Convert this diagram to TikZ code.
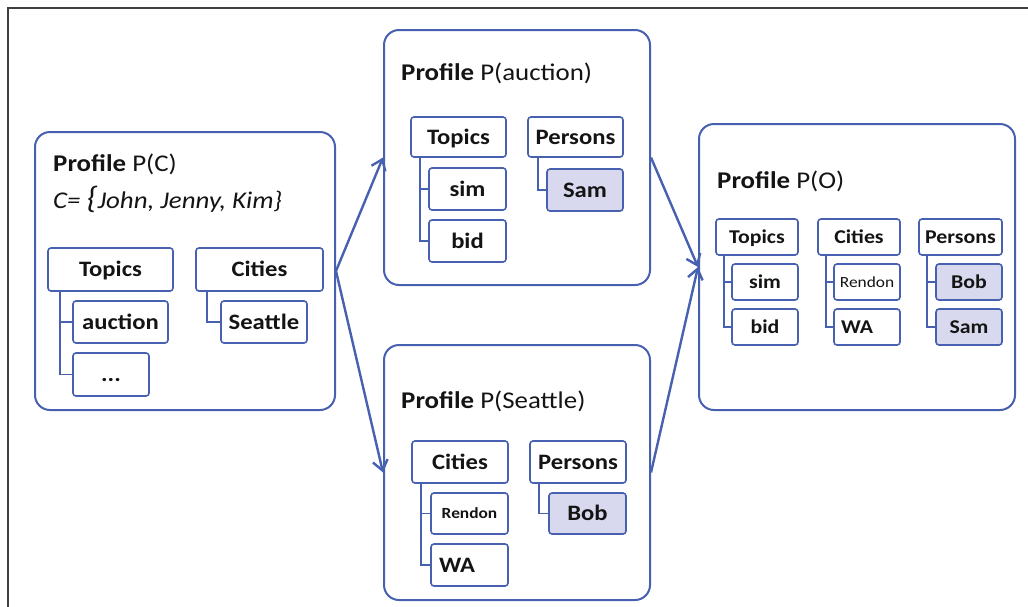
\documentclass[tikz,border=0pt]{standalone}
\usepackage{fontspec}
\setmainfont{Carlito}[FakeStretch=1.12]
\usetikzlibrary{arrows.meta}
\definecolor{edge}{RGB}{72,96,176}
\definecolor{lav}{RGB}{216,217,238}
\definecolor{ink}{RGB}{20,20,20}
\definecolor{framegray}{RGB}{64,64,64}

% box placed by its corners: name, x1, y1, x2, y2, style, text
\newcommand\bx[7]{\node[#6, minimum width={#4-#2}, minimum height={#5-#3}] (#1) at ({(#2+#4)/2},{(#3+#5)/2}) {#7};}

\begin{document}
\begin{tikzpicture}[x=1pt,y=-1pt,
  profile/.style={draw=edge, line width=2pt, rounded corners=15pt, fill=white, inner sep=0pt},
  cell/.style={draw=edge, line width=1.6pt, rounded corners=3pt, fill=white, inner sep=0pt, text=ink, text depth=0pt},
  big/.style={cell, font=\fontsize{22}{24}\selectfont\bfseries, text height=14.1pt},
  small/.style={cell, font=\fontsize{19.5}{22}\selectfont\bfseries, text height=12.5pt},
  tinyb/.style={cell, font=\fontsize{15.5}{18}\selectfont\bfseries, text height=10pt},
  tinyr/.style={cell, font=\fontsize{15.5}{18}\selectfont, text height=10pt},
  person/.style={fill=lav},
  title/.style={anchor=base west, inner sep=0pt, text=ink, font=\fontsize{24}{28}\selectfont},
  tree/.style={draw=edge, line width=1.8pt},
  flow/.style={draw=edge, line width=2.4pt, -{Straight Barb[length=10pt,width=15pt,line width=2.4pt]}}
]
\useasboundingbox (0,0) rectangle (1028,606);
\draw[framegray, line width=1.8pt] (8,610) -- (8,8) -- (1032,8);

% ---- profile P(C) ----
\bx{pc}{35}{132}{335}{410}{profile}{}
\node[title] (pct) at (53,171) {\textbf{Profile} P(C)};
\node[anchor=base west, inner sep=0pt, text=ink, font=\fontsize{24}{28}\selectfont\itshape] (pcs) at (53,208)
  {C= {\fontsize{31}{32}\selectfont\{}John, Jenny, Kim\}};
\bx{pcT}{48}{248}{173}{291}{big}{Topics}
\bx{pcC}{196}{248}{323}{291}{big}{Cities}
\bx{pcA}{73}{301}{168}{343}{big}{auction}
\bx{pcD}{73}{353}{149}{396}{big}{...}
\bx{pcS}{221}{301}{307}{343}{big}{Seattle}
\draw[tree] ([xshift=13pt]pcT.south west) |- (pcD.west);
\draw[tree] ([xshift=13pt]pcT.south west) |- (pcA.west);
\draw[tree] ([xshift=12pt]pcC.south west) |- (pcS.west);

% ---- profile P(auction) ----
\bx{pa}{384}{30}{650}{285}{profile}{}
\node[title] (pat) at (401,80) {\textbf{Profile} P(auction)};
\bx{paT}{411}{117}{506}{157}{big}{Topics}
\bx{paP}{528}{117}{623}{157}{big}{Persons}
\bx{paS}{429}{168}{506}{210}{big}{sim}
\bx{paB}{429}{220}{506}{262}{big}{bid}
\bx{paM}{547}{169}{623}{211}{big,person}{Sam}
\draw[tree] ([xshift=10pt]paT.south west) |- (paB.west);
\draw[tree] ([xshift=10pt]paT.south west) |- (paS.west);
\draw[tree] ([xshift=11pt]paP.south west) |- (paM.west);

% ---- profile P(Seattle) ----
\bx{ps}{384}{345}{650}{600}{profile}{}
\node[title] (pst) at (401,408) {\textbf{Profile} P(Seattle)};
\bx{psC}{412}{441}{508}{483}{big}{Cities}
\bx{psP}{530}{441}{626}{483}{big}{Persons}
\bx{psR}{431}{493}{508}{534}{tinyb}{Rendon}
\bx{psW}{431}{544}{508}{586}{big}{\makebox[61pt][l]{WA}}
\bx{psB}{549}{493}{626}{534}{big,person}{Bob}
\draw[tree] ([xshift=10pt]psC.south west) |- (psW.west);
\draw[tree] ([xshift=10pt]psC.south west) |- (psR.west);
\draw[tree] ([xshift=10pt]psP.south west) |- (psB.west);

% ---- profile P(O) ----
\bx{po}{699}{124}{1015}{410}{profile}{}
\node[title] (pot) at (717,188) {\textbf{Profile} P(O)};
\bx{poT}{716}{219}{798}{255}{small}{Topics}
\bx{poC}{818}{219}{900}{255}{small}{Cities}
\bx{poP}{919}{219}{1002}{255}{small}{Persons}
\bx{poS}{732}{264}{798}{300}{small}{sim}
\bx{poB}{732}{309}{798}{345}{small}{bid}
\bx{poR}{834}{264}{900}{300}{tinyr}{Rendon}
\bx{poW}{834}{309}{900}{345}{small}{\makebox[52pt][l]{WA}}
\bx{poX}{936}{264}{1002}{300}{small,person}{Bob}
\bx{poM}{936}{309}{1002}{345}{small,person}{Sam}
\draw[tree] ([xshift=9pt]poT.south west) |- (poB.west);
\draw[tree] ([xshift=9pt]poT.south west) |- (poS.west);
\draw[tree] ([xshift=9pt]poC.south west) |- (poW.west);
\draw[tree] ([xshift=9pt]poC.south west) |- (poR.west);
\draw[tree] ([xshift=9pt]poP.south west) |- (poM.west);
\draw[tree] ([xshift=9pt]poP.south west) |- (poX.west);

% ---- flow between profiles ----
\draw[flow] (pc.east) -- (pa.west);
\draw[flow] (pc.east) -- (ps.west);
\draw[flow] (pa.east) -- (po.west);
\draw[flow] (ps.east) -- (po.west);
\end{tikzpicture}
\end{document}
